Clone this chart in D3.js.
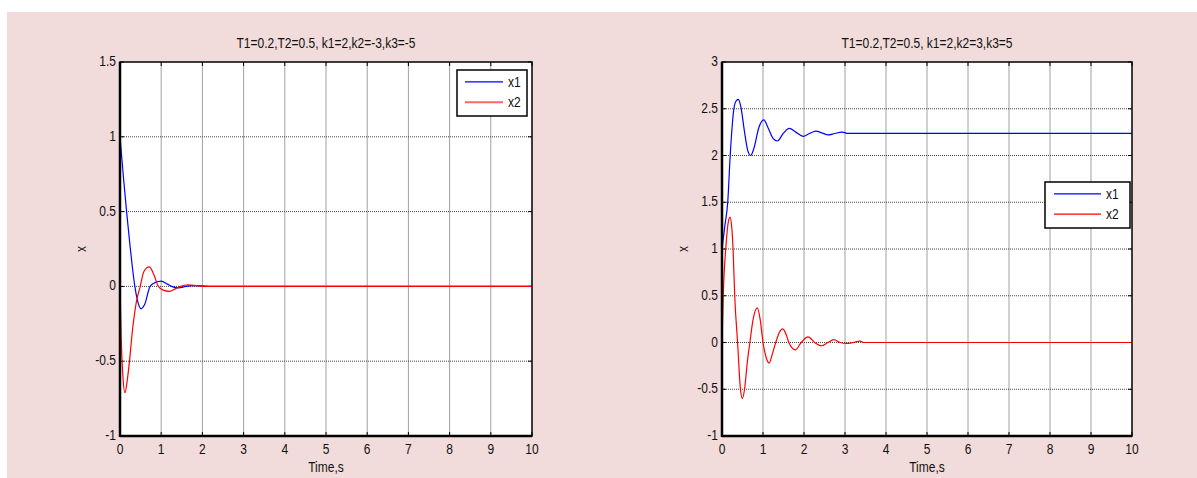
<!DOCTYPE html>
<html>
<head>
<meta charset="utf-8">
<script src="https://cdn.jsdelivr.net/npm/d3@7"></script>
<style>
  body { margin: 0; background: #fff; }
  svg text { font-family: "Liberation Sans", Arial, sans-serif; fill: #111; }
</style>
</head>
<body>
<svg id="chart" width="1197" height="478"></svg>
<script>
// time ticks shared by both plots
const timeTicks = [0, 1, 2, 3, 4, 5, 6, 7, 8, 9, 10];
const leftYTicks = [-1, -0.5, 0, 0.5, 1, 1.5];
const rightYTicks = [-1, -0.5, 0, 0.5, 1, 1.5, 2, 2.5, 3];

const leftTitle = "T1=0.2,T2=0.5, k1=2,k2=-3,k3=-5";
const rightTitle = "T1=0.2,T2=0.5, k1=2,k2=3,k3=5";
const seriesNames = ["x1", "x2"];

// [time, value]
const leftX1 = [[0,1],[0.08,0.74],[0.16,0.5],[0.24,0.28],[0.3,0.13],[0.36,0],[0.43,-0.1],[0.51,-0.15],
  [0.6,-0.12],[0.73,0],[0.85,0.025],[1.0,0.035],[1.15,0.015],[1.25,0],[1.42,-0.01],[1.6,0],
  [1.8,0.005],[2.1,0.002],[2.2,0],[10,0]];
const leftX2 = [[0,0],[0.03,-0.35],[0.07,-0.6],[0.12,-0.71],[0.18,-0.62],[0.23,-0.5],[0.3,-0.3],
  [0.4,-0.1],[0.49,0],[0.58,0.1],[0.71,0.13],[0.82,0.08],[0.93,0],[1.05,-0.025],[1.2,-0.033],
  [1.35,-0.015],[1.47,0],[1.65,0.01],[1.85,0.005],[2.0,0],[10,0]];
const rightX1 = [[0,1],[0.07,1.25],[0.14,1.5],[0.2,2.0],[0.29,2.5],[0.34,2.58],[0.4,2.6],[0.46,2.52],
  [0.55,2.25],[0.63,2.05],[0.7,2.0],[0.78,2.08],[0.9,2.3],[1.02,2.38],[1.12,2.3],[1.25,2.18],
  [1.35,2.155],[1.5,2.24],[1.64,2.29],[1.8,2.25],[1.98,2.205],[2.13,2.235],[2.29,2.26],[2.45,2.24],
  [2.59,2.22],[2.75,2.235],[2.92,2.25],[3.0,2.245],[3.04,2.236],[10,2.236]];
const rightX2 = [[0,0],[0.03,0.5],[0.1,1.05],[0.15,1.28],[0.195,1.34],[0.24,1.22],[0.27,1.0],[0.31,0.5],
  [0.38,0],[0.45,-0.5],[0.495,-0.6],[0.55,-0.5],[0.62,-0.2],[0.68,0],[0.76,0.25],[0.86,0.37],
  [0.93,0.25],[1.0,0],[1.07,-0.15],[1.15,-0.22],[1.23,-0.12],[1.31,0],[1.39,0.1],[1.48,0.146],
  [1.57,0.08],[1.63,0],[1.79,-0.078],[1.93,0],[2.1,0.06],[2.26,0],[2.43,-0.035],[2.58,0],
  [2.73,0.03],[2.88,0],[3.04,-0.01],[3.2,0],[3.37,0.015],[3.45,0],[10,0]];

const svg = d3.select("#chart");

svg.append("rect")
    .attr("x", 7).attr("y", 12)
    .attr("width", 1190).attr("height", 466)
    .attr("fill", "#f2dcdb");

// the figure was stretched a bit vertically when pasted, so text is slightly tall
function label(g, x, y, txt, size, anchor, rot) {
    return g.append("text")
        .attr("transform", `translate(${x},${y})${rot ? " rotate(-90)" : ""} scale(1,1.15)`)
        .attr("text-anchor", anchor || "start")
        .attr("font-size", size)
        .text(txt);
}

function drawPlot(opts) {
    const x = d3.scaleLinear().domain([0, 10]).range([opts.left, opts.right]);
    const y = d3.scaleLinear().domain(opts.yDomain).range([opts.bottom, opts.top]);
    const g = svg.append("g");

    g.append("rect")
        .attr("x", opts.left).attr("y", opts.top)
        .attr("width", opts.right - opts.left).attr("height", opts.bottom - opts.top)
        .attr("fill", "#fff");

    // grid
    g.selectAll(".vgrid").data(timeTicks.slice(1, -1)).enter().append("line")
        .attr("x1", d => x(d)).attr("x2", d => x(d))
        .attr("y1", opts.top).attr("y2", opts.bottom)
        .attr("stroke", "#a0a0a0").attr("stroke-width", 1);
    g.selectAll(".hgrid").data(opts.yTicks.slice(1, -1)).enter().append("line")
        .attr("x1", opts.left).attr("x2", opts.right)
        .attr("y1", d => y(d)).attr("y2", d => y(d))
        .attr("stroke", "#444").attr("stroke-width", 1).attr("stroke-dasharray", "1,1");

    // inward ticks (MATLAB style) on all four sides
    const tl = 4;
    timeTicks.forEach(t => {
        g.append("line").attr("x1", x(t)).attr("x2", x(t)).attr("y1", opts.bottom).attr("y2", opts.bottom - tl).attr("stroke", "#000");
        g.append("line").attr("x1", x(t)).attr("x2", x(t)).attr("y1", opts.top).attr("y2", opts.top + tl).attr("stroke", "#000");
    });
    opts.yTicks.forEach(v => {
        g.append("line").attr("x1", opts.left).attr("x2", opts.left + tl).attr("y1", y(v)).attr("y2", y(v)).attr("stroke", "#000");
        g.append("line").attr("x1", opts.right).attr("x2", opts.right - tl).attr("y1", y(v)).attr("y2", y(v)).attr("stroke", "#000");
    });

    // curves
    const line = d3.line().x(d => x(d[0])).y(d => y(d[1])).curve(d3.curveMonotoneX);
    g.append("path").datum(opts.x1).attr("d", line)
        .attr("fill", "none").attr("stroke", "#0000ff").attr("stroke-width", 1.2);
    g.append("path").datum(opts.x2).attr("d", line)
        .attr("fill", "none").attr("stroke", "#ff0000").attr("stroke-width", 1.2);

    // box
    g.append("rect")
        .attr("x", opts.left).attr("y", opts.top)
        .attr("width", opts.right - opts.left).attr("height", opts.bottom - opts.top)
        .attr("fill", "none").attr("stroke", "#000").attr("stroke-width", 1.5);
    g.append("line").attr("x1", opts.left).attr("x2", opts.left).attr("y1", opts.top).attr("y2", opts.bottom + 1)
        .attr("stroke", "#000").attr("stroke-width", 2.5);
    g.append("line").attr("x1", opts.left).attr("x2", opts.right).attr("y1", opts.bottom).attr("y2", opts.bottom)
        .attr("stroke", "#000").attr("stroke-width", 2.5);

    // tick labels
    timeTicks.forEach(t => label(g, x(t), opts.bottom + 18, t, 12, "middle"));
    opts.yTicks.forEach(v => label(g, opts.left - 4, y(v) + 4, v, 12, "end"));

    label(g, (opts.left + opts.right) / 2, opts.top - 14, opts.title, 12, "middle");
    label(g, (opts.left + opts.right) / 2, opts.bottom + 36, "Time,s", 12, "middle");
    label(g, opts.left - 34, (opts.top + opts.bottom) / 2, "x", 12, "middle", true);

    // legend
    const L = opts.legend;
    g.append("rect")
        .attr("x", L.x).attr("y", L.y).attr("width", L.w).attr("height", L.h)
        .attr("fill", "#fff").attr("stroke", "#000").attr("stroke-width", 1.5);
    seriesNames.forEach((name, i) => {
        const ly = L.y + L.h * (i === 0 ? 0.26 : 0.7);
        g.append("line")
            .attr("x1", L.x + L.pad).attr("x2", L.x + L.pad + L.len)
            .attr("y1", ly).attr("y2", ly)
            .attr("stroke", i === 0 ? "#0000ff" : L.red).attr("stroke-width", i === 0 ? 1.2 : L.redW);
        label(g, L.x + L.pad + L.len + 5, ly + 5, name, 12, "start");
    });
}

drawPlot({
    left: 120, right: 532, top: 62, bottom: 436,
    yDomain: [-1, 1.5], yTicks: leftYTicks,
    title: leftTitle, x1: leftX1, x2: leftX2,
    legend: { x: 457, y: 70, w: 70, h: 46, pad: 8, len: 38, red: "#ff6666", redW: 2 }
});

drawPlot({
    left: 722, right: 1132, top: 62, bottom: 436,
    yDomain: [-1, 3], yTicks: rightYTicks,
    title: rightTitle, x1: rightX1, x2: rightX2,
    legend: { x: 1045, y: 182, w: 85, h: 46, pad: 9, len: 47, red: "#ff0000", redW: 1.2 }
});
</script>
</body>
</html>
